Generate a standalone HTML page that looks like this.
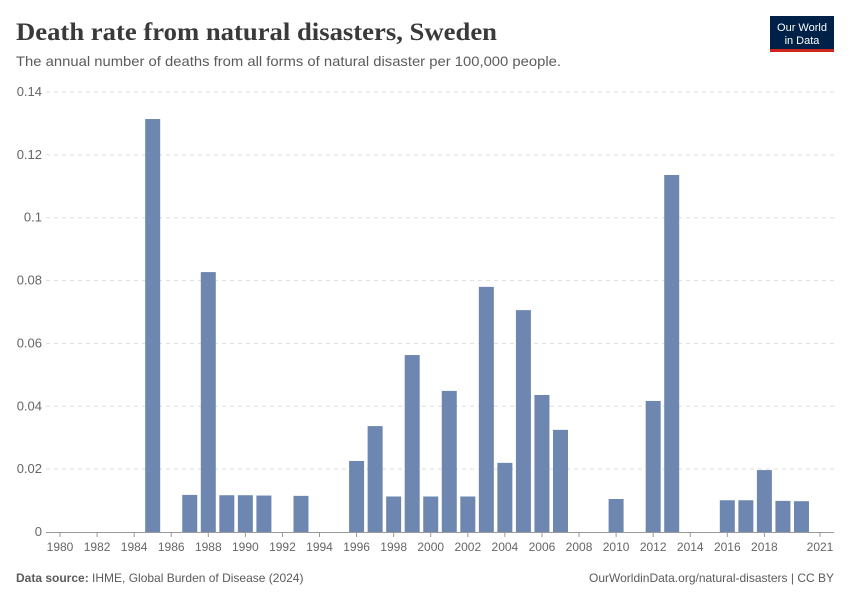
<!DOCTYPE html>
<html><head><meta charset="utf-8"><style>
body{margin:0;background:#fff;font-family:"Liberation Sans",sans-serif}
svg text{font-family:"Liberation Sans",sans-serif}
</style></head><body>
<svg width="850" height="600" id="c">
<text x="16" y="40" font-size="25" font-weight="bold" fill="#3a3a3a" style="font-family:'Liberation Serif',serif" textLength="481" lengthAdjust="spacingAndGlyphs">Death rate from natural disasters, Sweden</text>
<text x="16" y="66" font-size="14" fill="#5b5b5b" textLength="545" lengthAdjust="spacingAndGlyphs">The annual number of deaths from all forms of natural disaster per 100,000 people.</text>
<g>
<rect x="770" y="16" width="64" height="36" fill="#002147"/>
<rect x="770" y="49" width="64" height="3" fill="#ce261e"/>
<text x="802" y="31" font-size="11" fill="#fff" text-anchor="middle">Our World</text>
<text x="802" y="44" font-size="11" fill="#fff" text-anchor="middle">in Data</text>
</g>
<g id="grid"></g><g id="bars"></g><g id="xaxis"></g>
<text x="16" y="582" font-size="12" fill="#5b5b5b"><tspan font-weight="bold">Data source:</tspan> IHME, Global Burden of Disease (2024)</text>
<text x="834" y="582" font-size="12" fill="#5b5b5b" text-anchor="end">OurWorldinData.org/natural-disasters | CC BY</text>
</svg>
<script>
const years=[1985,1987,1988,1989,1990,1991,1993,1996,1997,1998,1999,2000,2001,2002,2003,2004,2005,2006,2007,2010,2012,2013,2016,2017,2018,2019,2020];
const values=[0.1314,0.0118,0.0827,0.0117,0.0117,0.0116,0.0115,0.0226,0.0337,0.0113,0.0563,0.0113,0.0449,0.0113,0.078,0.022,0.0706,0.0436,0.0325,0.0105,0.0417,0.1136,0.0101,0.0101,0.0197,0.0099,0.0098];
const yTicks=[0,0.02,0.04,0.06,0.08,0.1,0.12,0.14];
const yTickLabels=["0","0.02","0.04","0.06","0.08","0.1","0.12","0.14"];
const xTicks=[1980,1982,1984,1986,1988,1990,1992,1994,1996,1998,2000,2002,2004,2006,2008,2010,2012,2014,2016,2018,2021];
const NS="http://www.w3.org/2000/svg";
const x=v=>60+(v-1980)*(760/41);
const y=v=>532-v*(440/0.14);
function mk(t,a,p){const e=document.createElementNS(NS,t);for(const k in a)e.setAttribute(k,a[k]);p.appendChild(e);return e;}
const g=document.getElementById('grid'),b=document.getElementById('bars'),xa=document.getElementById('xaxis');
yTicks.forEach((t,i)=>{
 if(i>0){const l=mk('line',{x1:46,x2:834,y1:y(t),y2:y(t),stroke:'#ddd','stroke-dasharray':'4,4'},g);
 
 }
 const tx=mk('text',{x:42,y:y(t)+4,'font-size':13,fill:'#666','text-anchor':'end'},g);tx.textContent=yTickLabels[i];
 
 
});
years.forEach((yr,i)=>{
 const r=mk('rect',{x:x(yr)-7.5,y:y(values[i]),width:15,height:532-y(values[i]),fill:'#6d87b0'},b);
 
 
});
const ax=mk('line',{x1:46,x2:834,y1:532.5,y2:532.5,stroke:'#999'},xa);


xTicks.forEach(t=>{
 mk('line',{x1:x(t),x2:x(t),y1:532,y2:537,stroke:'#999'},xa);
 const tx=mk('text',{x:x(t),y:551,'font-size':12,fill:'#666','text-anchor':'middle'},xa);tx.textContent=t;
 
 
});
</script>
</body></html>
